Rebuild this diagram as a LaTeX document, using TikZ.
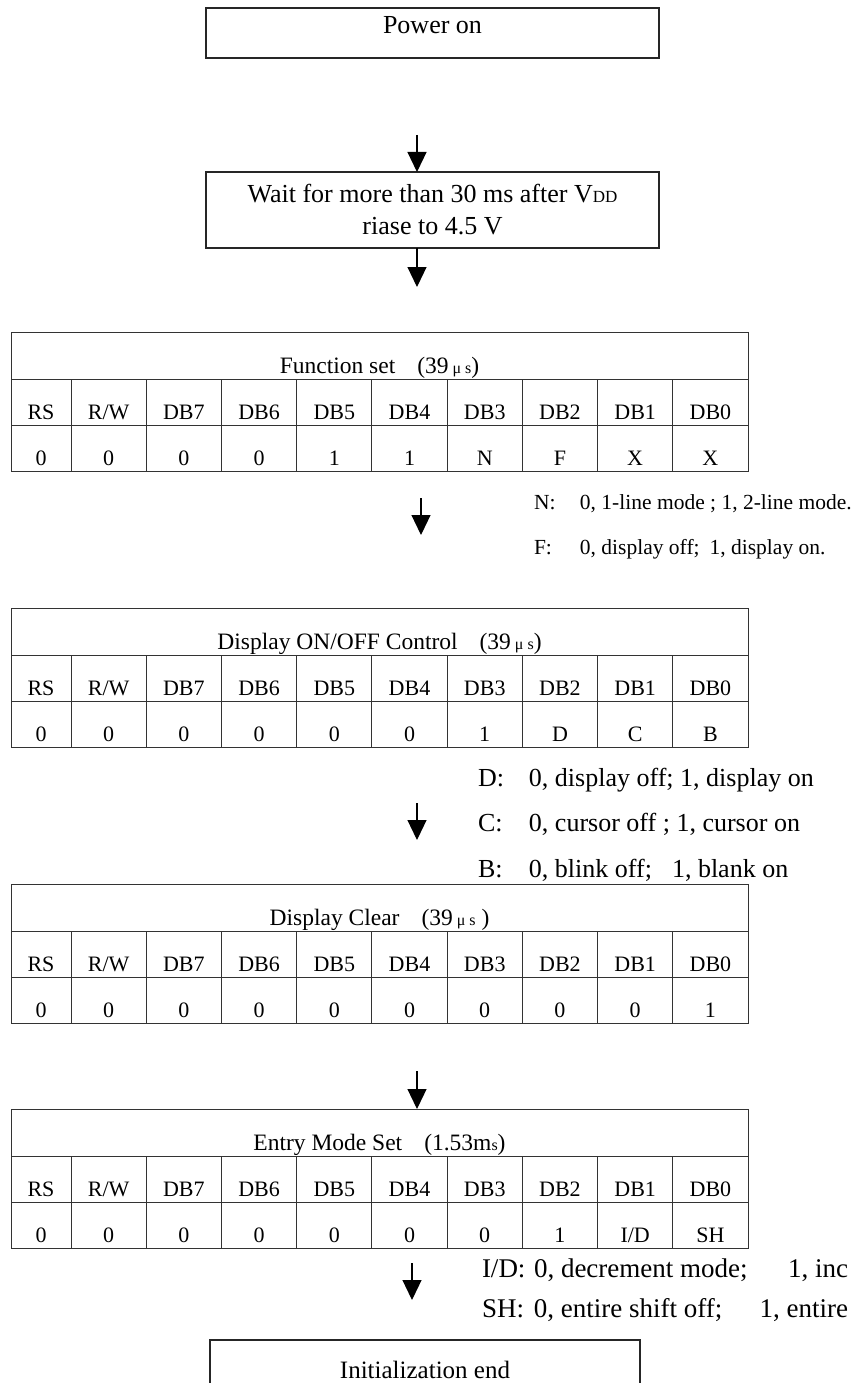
\documentclass[tikz,border=0pt]{standalone}
\usepackage{fontspec}
\setmainfont{Liberation Serif}
\usetikzlibrary{arrows.meta}
\newcommand\mymus{{\fontsize{16}{16}\selectfont\ μ\ s}}
\tikzset{
  every node/.style={inner sep=0pt, outer sep=0pt},
  flowbox/.style={draw=black!85, line width=1.3pt, anchor=north west, minimum width=453pt, font=\fontsize{26}{30}\selectfont, align=center},
  cellbox/.style={draw=black!80, line width=1pt, anchor=north west, text height=40pt, text depth=6pt, minimum width=#1, font=\fontsize{22}{26}\selectfont},
  hdrbox/.style={draw=black!80, line width=1pt, anchor=north west, text height=41pt, text depth=6pt, minimum width=737pt, font=\fontsize{23.5}{26}\selectfont},
  arr/.style={line width=1.2pt, -{Triangle[length=20pt,width=19pt]}},
  note/.style={anchor=base west, font=\fontsize{21.5}{26}\selectfont},
  bignote/.style={anchor=base west, font=\fontsize{26}{30}\selectfont},
}
\newcommand\bittable[4]{%
  \node[hdrbox] (#1h) at (11,#2) {#3};
  \foreach \lab [count=\i] in {RS,R/W,DB7,DB6,DB5,DB4,DB3,DB2,DB1,DB0} {
    \pgfmathsetmacro\xx{\i==1 ? 11 : 71+(\i-2)*75.222}
    \pgfmathsetmacro\ww{\i==1 ? 60 : 75.222}
    \node[cellbox=\ww pt] (#1a\i) at (\xx,#2+47) {\lab};
  }
  \foreach \val [count=\i] in {#4} {
    \pgfmathsetmacro\xx{\i==1 ? 11 : 71+(\i-2)*75.222}
    \pgfmathsetmacro\ww{\i==1 ? 60 : 75.222}
    \node[cellbox=\ww pt] (#1b\i) at (\xx,#2+93) {\val};
  }
}
\begin{document}
\begin{tikzpicture}[x=1pt,y=-1pt]
\useasboundingbox (0,0) rectangle (851,1383);
\clip (0,0) rectangle (851,1383);
\fill[white] (0,0) rectangle (851,1383);

% flow boxes
\node[flowbox, text height=26pt, text depth=24pt] (power) at (206,8) {Power on};
\node[flowbox, minimum height=76pt] (wait) at (206,172) {\raisebox{2pt}{Wait for more than 30 ms after V{\fontsize{17}{17}\selectfont DD}}\\riase to 4.5 V};

% tables
\bittable{fs}{332}{Function set\hspace{22pt}(39\mymus)}{0,0,0,0,1,1,N,F,X,X}
\bittable{dc}{608}{Display ON/OFF Control\hspace{22pt}(39\mymus)}{0,0,0,0,0,0,1,D,C,B}
\bittable{cl}{884}{Display Clear\hspace{22pt}(39\mymus\ )}{0,0,0,0,0,0,0,0,0,1}
\bittable{em}{1109}{Entry Mode Set\hspace{22pt}(1.53m{\fontsize{16}{16}\selectfont s})}{0,0,0,0,0,0,0,1,I/D,SH}

% final box
\node[flowbox, minimum width=430pt, text height=38pt, text depth=40pt, font=\fontsize{25}{30}\selectfont] (iend) at (210,1340) {Initialization end};

% notes
\node[note] (nN) at (534,509) {\makebox[46pt][l]{N:}0, 1-line mode ; 1, 2-line mode.};
\node[note] (nF) at (534,554) {\makebox[46pt][l]{F:}0, display off;\hspace{10pt}1, display on.};
\node[bignote] (nD) at (478,786) {\makebox[51pt][l]{D:}0, display off; 1, display on};
\node[bignote] (nC) at (478,831) {\makebox[51pt][l]{C:}0, cursor off ; 1, cursor on};
\node[bignote] (nB) at (478,877) {\makebox[51pt][l]{B:}0, blink off;\hspace{20pt}1, blank on};
\node[bignote, font=\fontsize{27}{30}\selectfont] (nI) at (482,1277) {\makebox[366pt][l]{\makebox[52pt][l]{I/D:}0, decrement mode;\hfill 1, inc}};
\node[bignote, font=\fontsize{27}{30}\selectfont] (nS) at (482,1317) {\makebox[366pt][l]{\makebox[52pt][l]{SH:}0, entire shift off;\hfill 1, entire}};

% arrows
\coordinate (a1) at (417,135);
\coordinate (a3s) at (421,498); \coordinate (a3e) at (421,535);
\coordinate (a4s) at (417,803); \coordinate (a4e) at (417,840);
\coordinate (a5) at (417,1071);
\coordinate (a6s) at (412,1263); \coordinate (a6e) at (412,1300);
\coordinate (a2e) at (417,287);
\draw[arr] (a1) -- (a1 |- wait.north);
\draw[arr] (wait.south -| a1) -- (a2e);
\draw[arr] (a3s) -- (a3e);
\draw[arr] (a4s) -- (a4e);
\draw[arr] (a5) -- (a5 |- emh.north);
\draw[arr] (a6s) -- (a6e);
\end{tikzpicture}
\end{document}
